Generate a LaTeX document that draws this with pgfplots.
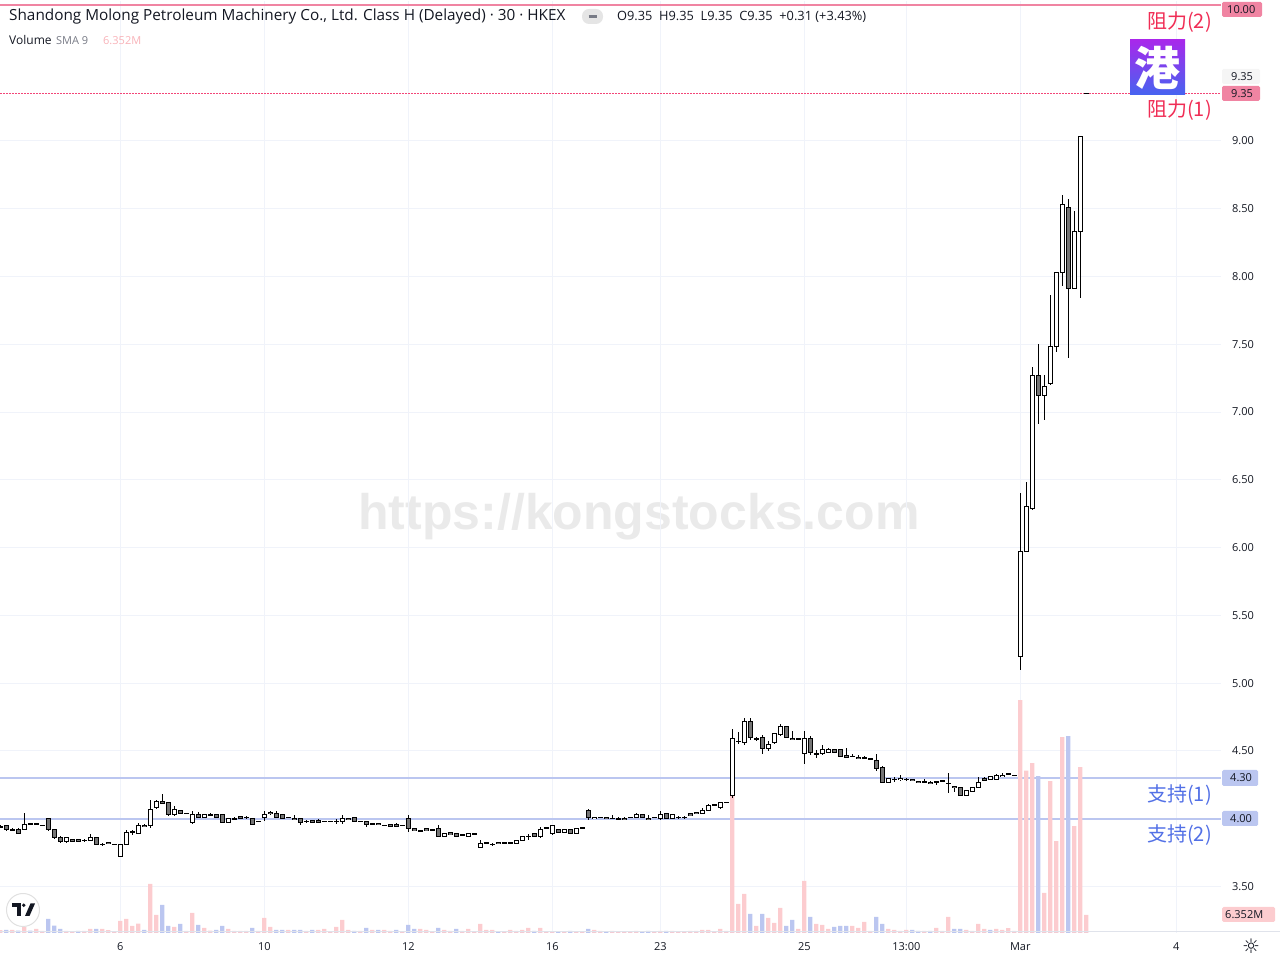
\documentclass[border=0pt]{standalone}
\usepackage{pgfplots}
\pgfplotsset{compat=1.18}
\usepackage{pgfplotstable}
\usepackage{fontspec}
\setmainfont{Open Sans}
\newfontfamily\cjk{Noto Sans CJK SC}
\newfontfamily\dejavu{DejaVu Sans}
\newfontfamily\wmfont{Liberation Sans}
\definecolor{gridc}{RGB}{240,243,250}
\definecolor{volpink}{RGB}{252,204,207}
\definecolor{volblue}{RGB}{187,198,240}
\definecolor{supline}{RGB}{187,198,240}
\definecolor{suptext}{RGB}{82,112,230}
\definecolor{resline}{RGB}{240,132,162}
\definecolor{restext}{RGB}{240,45,85}
\definecolor{dotline}{RGB}{242,70,120}
\definecolor{cgray}{RGB}{117,117,117}
\definecolor{tvtext}{RGB}{19,23,34}
\definecolor{tvgray}{RGB}{120,123,134}
\definecolor{wmc}{RGB}{234,234,234}
\definecolor{smapink}{RGB}{248,178,184}
\definecolor{borderc}{RGB}{224,227,235}
\pgfplotstableread{
x o h l c d v vc
0 3.94 3.95 3.93 3.94 1 0.95 1
1 3.95 3.95 3.91 3.92 0 1.06 0
2 3.92 3.93 3.91 3.92 1 1.06 1
3 3.92 3.93 3.89 3.89 0 0.81 0
4 3.92 4.04 3.92 3.96 1 2.12 1
5 3.965 3.965 3.96 3.96 0 0.81 0
6 3.96 3.97 3.95 3.96 1 1.41 1
7 3.95 3.95 3.95 3.95 1 0.71 1
8 4.00 4.00 3.91 3.92 0 4.94 0
9 3.92 3.92 3.85 3.86 0 2.58 0
10 3.86 3.87 3.82 3.83 0 1.41 0
11 3.83 3.86 3.82 3.86 1 0.71 1
12 3.85 3.85 3.83 3.83 0 0.46 1
13 3.845 3.845 3.835 3.835 0 0.71 0
14 3.84 3.85 3.83 3.84 1 0.71 1
15 3.84 3.89 3.84 3.86 1 1.41 1
16 3.86 3.86 3.81 3.81 0 1.41 0
17 3.81 3.82 3.80 3.81 1 1.41 1
18 3.825 3.825 3.815 3.815 0 0.95 1
19 3.81 3.81 3.81 3.81 1 0.46 1
20 3.72 3.81 3.72 3.81 1 4.24 1
21 3.81 3.92 3.81 3.90 1 4.94 1
22 3.90 3.92 3.88 3.90 1 2.47 1
23 3.89 3.97 3.89 3.95 1 3.28 1
24 3.95 3.96 3.94 3.94 0 1.06 0
25 3.95 4.14 3.93 4.07 1 17.30 1
26 4.08 4.14 4.07 4.13 1 6.35 1
27 4.125 4.18 4.115 4.115 0 9.88 0
28 4.12 4.12 4.02 4.03 0 2.47 0
29 4.03 4.09 4.02 4.07 1 2.12 1
30 4.06 4.06 4.04 4.04 0 3.18 0
31 4.04 4.04 4.04 4.04 1 0.71 1
32 3.97 4.06 3.96 4.03 1 7.06 1
33 4.03 4.05 4.01 4.01 0 2.82 0
34 4.01 4.03 4.01 4.03 1 1.77 1
35 4.03 4.04 4.02 4.03 1 0.81 1
36 4.03 4.03 4.01 4.01 0 1.06 0
37 4.03 4.03 3.97 3.97 0 2.47 0
38 3.97 4.00 3.97 4.00 1 1.41 1
39 4.00 4.01 4.00 4.00 1 0.71 1
40 4.015 4.02 4.005 4.005 0 0.71 1
41 4.01 4.02 4.00 4.01 1 0.71 1
42 4.00 4.00 3.96 3.96 0 1.77 0
43 3.98 3.98 3.98 3.98 1 0.71 1
44 4.01 4.06 3.98 4.03 1 5.30 1
45 4.045 4.06 4.03 4.035 0 2.12 1
46 4.04 4.06 4.01 4.01 0 1.06 0
47 4.03 4.03 4.00 4.00 0 1.06 0
48 4.01 4.01 4.01 4.01 1 1.06 1
49 4.005 4.03 3.99 3.995 0 1.06 0
50 4.00 4.00 3.95 3.97 0 1.06 0
51 3.98 3.99 3.97 3.98 1 0.71 1
52 3.985 3.985 3.975 3.975 0 1.06 0
53 3.985 4.00 3.975 3.975 0 1.06 1
54 3.98 3.98 3.98 3.98 1 1.41 1
55 3.98 3.98 3.98 3.98 1 0.35 1
56 3.98 4.00 3.96 3.98 1 2.12 1
57 3.98 4.03 3.96 4.00 1 4.59 1
58 4.005 4.005 3.995 3.995 0 1.06 1
59 4.01 4.01 3.98 3.98 0 0.71 0
60 3.98 3.98 3.98 3.98 1 0.71 1
61 3.98 3.98 3.94 3.96 0 1.77 0
62 3.96 3.96 3.96 3.96 1 1.06 1
63 3.965 3.965 3.955 3.955 0 1.06 0
64 3.95 3.95 3.95 3.95 1 1.06 1
65 3.955 3.955 3.945 3.945 0 0.71 1
66 3.955 3.97 3.945 3.945 0 1.06 0
67 3.95 3.95 3.95 3.95 1 0.35 1
68 4.00 4.03 3.90 3.93 0 2.82 0
69 3.925 3.935 3.91 3.915 0 1.41 0
70 3.91 3.92 3.90 3.91 1 1.41 1
71 3.925 3.925 3.915 3.915 0 1.06 1
72 3.92 3.92 3.92 3.92 1 0.35 1
73 3.93 3.95 3.87 3.87 0 1.77 0
74 3.87 3.89 3.87 3.89 1 1.06 1
75 3.895 3.895 3.885 3.885 0 0.71 1
76 3.89 3.89 3.87 3.87 0 1.41 0
77 3.88 3.89 3.87 3.88 1 0.71 1
78 3.87 3.89 3.87 3.89 1 1.41 1
79 3.89 3.89 3.89 3.89 1 0.35 1
80 3.79 3.84 3.79 3.82 1 3.18 1
81 3.82 3.83 3.81 3.82 1 1.06 1
82 3.81 3.82 3.80 3.81 1 1.06 1
83 3.825 3.825 3.815 3.815 0 0.35 0
84 3.82 3.83 3.81 3.82 1 0.35 1
85 3.82 3.83 3.81 3.82 1 1.06 1
86 3.82 3.84 3.82 3.84 1 0.71 1
87 3.84 3.87 3.84 3.87 1 1.06 1
88 3.87 3.89 3.84 3.87 1 1.77 1
89 3.89 3.89 3.87 3.87 0 0.71 0
90 3.87 3.94 3.86 3.92 1 1.77 1
91 3.93 3.93 3.93 3.93 1 0.35 1
92 3.89 3.95 3.88 3.95 1 0.35 1
93 3.92 3.92 3.90 3.90 0 0.35 0
94 3.90 3.92 3.90 3.92 1 0.35 1
95 3.92 3.92 3.89 3.89 0 0.71 0
96 3.89 3.93 3.89 3.93 1 0.35 1
97 3.93 3.93 3.93 3.93 1 0.35 1
98 4.06 4.07 3.99 4.01 0 1.41 0
99 4.00 4.01 4.00 4.01 1 1.06 1
100 4.01 4.01 4.01 4.01 1 0.71 1
101 4.01 4.01 4.00 4.00 0 0.35 0
102 4.005 4.03 4.00 4.00 0 0.71 1
103 4.00 4.01 3.99 4.00 1 0.35 1
104 4.005 4.01 3.995 3.995 0 0.35 1
105 4.01 4.01 4.01 4.01 1 0.35 1
106 4.01 4.04 4.01 4.03 1 0.71 1
107 4.03 4.03 4.01 4.01 0 0.35 0
108 4.005 4.03 3.995 3.995 0 0.71 0
109 4.01 4.01 4.01 4.01 1 0.35 1
110 4.00 4.06 3.99 4.03 1 0.71 1
111 4.04 4.04 4.00 4.00 0 0.71 0
112 4.00 4.03 4.00 4.03 1 0.71 1
113 4.01 4.02 4.00 4.01 1 0.35 1
114 4.01 4.02 4.00 4.01 1 0.35 1
115 4.035 4.035 4.025 4.025 0 0.71 1
116 4.045 4.045 4.035 4.035 0 0.71 1
117 4.04 4.08 4.04 4.06 1 1.06 1
118 4.06 4.11 4.06 4.10 1 1.06 1
119 4.10 4.10 4.10 4.10 1 0.35 1
120 4.08 4.12 4.07 4.12 1 1.41 1
121 4.12 4.12 4.12 4.12 1 0.71 1
122 4.17 4.66 4.15 4.59 1 48.36 1
123 4.57 4.64 4.55 4.57 1 10.24 1
124 4.56 4.74 4.54 4.72 1 13.77 1
125 4.72 4.74 4.58 4.60 0 6.71 0
126 4.59 4.60 4.57 4.59 1 2.47 1
127 4.60 4.62 4.48 4.52 0 6.71 0
128 4.52 4.57 4.50 4.55 1 5.30 1
129 4.56 4.63 4.55 4.63 1 3.53 1
130 4.62 4.70 4.61 4.68 1 8.83 1
131 4.68 4.68 4.60 4.60 0 2.47 0
132 4.595 4.65 4.585 4.585 0 4.59 0
133 4.59 4.59 4.59 4.59 1 1.41 1
134 4.48 4.65 4.40 4.59 1 18.36 1
135 4.59 4.61 4.47 4.49 0 5.65 0
136 4.48 4.51 4.45 4.48 1 3.18 1
137 4.48 4.54 4.47 4.51 1 2.82 1
138 4.49 4.52 4.49 4.51 1 1.41 1
139 4.51 4.51 4.49 4.49 0 2.12 0
140 4.51 4.51 4.46 4.46 0 2.47 0
141 4.465 4.52 4.455 4.455 0 2.47 0
142 4.46 4.48 4.46 4.46 1 2.47 1
143 4.455 4.47 4.44 4.445 0 1.77 1
144 4.45 4.46 4.44 4.45 1 3.88 1
145 4.44 4.44 4.44 4.44 1 0.71 1
146 4.43 4.48 4.35 4.37 0 5.65 0
147 4.38 4.39 4.27 4.27 0 3.18 0
148 4.27 4.30 4.27 4.30 1 1.41 1
149 4.29 4.31 4.27 4.29 1 1.06 1
150 4.29 4.32 4.28 4.30 1 0.71 1
151 4.29 4.30 4.28 4.29 1 1.06 1
152 4.29 4.29 4.28 4.28 0 1.06 0
153 4.275 4.275 4.265 4.265 0 0.71 0
154 4.27 4.29 4.27 4.27 1 0.71 1
155 4.27 4.28 4.26 4.26 0 0.71 0
156 4.27 4.28 4.25 4.27 1 1.77 1
157 4.28 4.28 4.28 4.28 1 0.71 1
158 4.26 4.34 4.19 4.26 1 5.65 1
159 4.24 4.24 4.20 4.23 0 1.41 0
160 4.23 4.23 4.17 4.17 0 1.41 0
161 4.17 4.21 4.17 4.21 1 1.06 1
162 4.20 4.23 4.20 4.23 1 0.71 1
163 4.23 4.31 4.23 4.27 1 3.18 1
164 4.295 4.31 4.28 4.285 0 1.41 1
165 4.29 4.31 4.29 4.31 1 1.06 0
166 4.29 4.33 4.29 4.32 1 1.41 1
167 4.31 4.34 4.31 4.32 1 1.06 1
168 4.33 4.34 4.32 4.33 1 1.66 1
169 4.32 4.32 4.32 4.32 1 0.71 1
170 5.20 6.40 5.10 5.97 1 82.14 1
171 5.97 6.48 5.97 6.30 1 57.29 1
172 6.29 7.33 6.28 7.27 1 59.90 1
173 7.27 7.50 6.91 7.12 0 55.32 0
174 7.12 7.27 6.94 7.19 1 14.12 1
175 7.21 7.86 7.20 7.48 1 53.55 1
176 7.48 8.03 7.44 8.03 1 32.37 1
177 8.03 8.60 7.93 8.53 1 69.08 1
178 8.51 8.57 7.40 7.91 0 69.44 0
179 7.91 8.48 7.91 8.33 1 37.67 1
180 8.33 9.03 7.84 9.03 1 58.49 1
181 9.35 9.35 9.35 9.35 1 6.352 1
}\candles
\begin{document}
\begin{tikzpicture}[x=1pt,y=1pt]
\path[use as bounding box] (0,0) rectangle (1280,960);
\node[text=wmc, font=\wmfont\bfseries\fontsize{50}{50}\selectfont] at (639,443) {https://kongstocks.com};
\begin{axis}[
  at={(0,20)}, anchor=south west, scale only axis,
  width=1221pt, height=932pt,
  xmin=-0.05, xmax=203.45, ymin=3.1576, ymax=10.0328,
  axis line style={draw=none},
  major tick length=0pt,
  xtick={20,44,68,92,110,134,151,170,196},
  xticklabels={6,10,12,16,23,25,13:00,Mar,4},
  ytick={3.5,4,4.5,5,5.5,6,6.5,7,7.5,8,8.5,9,10},
  yticklabels={3.50,,4.50,5.00,5.50,6.00,6.50,7.00,7.50,8.00,8.50,9.00,},
  yticklabel pos=right,
  grid=major, major grid style={draw=gridc, line width=1pt},
  tick label style={font=\fontsize{11}{13}\selectfont, text=tvtext},
  yticklabel style={anchor=west, inner sep=0pt, xshift=11pt},
  xticklabel style={anchor=base, inner sep=0pt, yshift=-18pt},
]
% support / resistance lines
\addplot[supline, line width=2pt] coordinates {(-1,4.30) (204,4.30)};
\addplot[supline, line width=2pt] coordinates {(-1,4.00) (204,4.00)};
\addplot[resline, line width=2pt] coordinates {(-1,10.00) (204,10.00)};
\addplot[dotline, line width=1.2pt, dash pattern=on 1.5pt off 1.5pt] coordinates {(-1,9.35) (204,9.35)};
% volume
\addplot[ybar, bar width=4.3pt, bar shift=0pt, fill=volpink, draw=none]
  table[x=x, y expr={3.1576+\thisrow{vc}*\thisrow{v}*0.020904}]{\candles};
\addplot[ybar, bar width=4.3pt, bar shift=0pt, fill=volblue, draw=none]
  table[x=x, y expr={3.1576+(1-\thisrow{vc})*\thisrow{v}*0.020904}]{\candles};
% wicks
\addplot[draw=none, mark=none, error bars/.cd, y dir=both, y explicit, error mark=none,
  error bar style={draw=black, solid, line width=1.1pt}]
  table[x=x, y expr={(\thisrow{h}+\thisrow{l})/2}, y error expr={(\thisrow{h}-\thisrow{l})/2}]{\candles};
% bodies outline
\addplot[draw=none, mark=none, error bars/.cd, y dir=both, y explicit, error mark=none,
  error bar style={draw=black, solid, line width=4.6pt}]
  table[x=x, y expr={(\thisrow{o}+\thisrow{c})/2}, y error expr={max(abs(\thisrow{c}-\thisrow{o})/2+0.0037,0.0055)}]{\candles};
% bodies fill up
\addplot[draw=none, mark=none, error bars/.cd, y dir=both, y explicit, error mark=none,
  error bar style={draw=white, solid, line width=3.0pt}]
  table[x=x, y expr={(\thisrow{o}+\thisrow{c})/2}, y error expr={\thisrow{d}*max(abs(\thisrow{c}-\thisrow{o})/2-0.0037,0)}]{\candles};
% bodies fill down
\addplot[draw=none, mark=none, error bars/.cd, y dir=both, y explicit, error mark=none,
  error bar style={draw=cgray, solid, line width=3.0pt}]
  table[x=x, y expr={(\thisrow{o}+\thisrow{c})/2}, y error expr={(1-\thisrow{d})*max(abs(\thisrow{c}-\thisrow{o})/2-0.0037,0)}]{\candles};
\end{axis}
% bottom border
\draw[borderc, line width=1pt] (0,28) -- (1280,28);
% header
\node[anchor=base west, inner sep=0pt, text=tvtext, font=\fontsize{15.3}{17}\selectfont] at (9,939)
  {Shandong Molong Petroleum Machinery Co., Ltd. Class H (Delayed) · 30 · HKEX};
\fill[rounded corners=7pt, fill=black!10] (582,936) rectangle (603,951);
\draw[tvgray, line width=2.5pt] (588.5,943.5) -- (596.5,943.5);
\node[anchor=base west, inner sep=0pt, text=tvtext, font=\fontsize{12.8}{14}\selectfont] at (617,939)
  {O9.35\ \ H9.35\ \ L9.35\ \ C9.35\ \ +0.31 (+3.43\%)};
\node[anchor=base west, inner sep=0pt, text=tvtext, font=\fontsize{12}{14}\selectfont] at (9,915) {Volume};
\node[anchor=base west, inner sep=0pt, text=tvgray, font=\fontsize{11}{13}\selectfont] at (56,915) {SMA 9};
\node[anchor=base west, inner sep=0pt, text=smapink, font=\fontsize{11}{13}\selectfont] at (103,915) {6.352M};
% labels
\node[anchor=east, inner sep=0pt, text=restext, font=\cjk\fontsize{20}{22}\selectfont] at (1212,938) {阻力(2)};
\node[anchor=east, inner sep=0pt, text=restext, font=\cjk\fontsize{20}{22}\selectfont] at (1212,850) {阻力(1)};
\node[anchor=east, inner sep=0pt, text=suptext, font=\cjk\fontsize{20}{22}\selectfont] at (1212,165) {支持(1)};
\node[anchor=east, inner sep=0pt, text=suptext, font=\cjk\fontsize{20}{22}\selectfont] at (1212,125) {支持(2)};
% logo
\shade[top color={rgb,255:red,168;green,40;blue,235}, bottom color={rgb,255:red,70;green,100;blue,240}] (1130,865) rectangle (1185,920);
\node[text=white, font=\cjk\bfseries\fontsize{46}{46}\selectfont, inner sep=0pt] at (1157.5,892.5) {港};
% price tags
\fill[resline, rounded corners=1.5pt] (1222,943) rectangle (1262,958);
\node[anchor=west, inner sep=0pt, text=tvtext, font=\fontsize{11}{13}\selectfont] at (1227,950.5) {10.00};
\fill[black!4, rounded corners=1.5pt] (1222,876) rectangle (1260,891);
\node[anchor=west, inner sep=0pt, text=tvtext, font=\fontsize{11}{13}\selectfont] at (1231,883.5) {9.35};
\fill[resline, rounded corners=1.5pt] (1222,859) rectangle (1260,874);
\node[anchor=west, inner sep=0pt, text=tvtext, font=\fontsize{11}{13}\selectfont] at (1231,866.5) {9.35};
\fill[supline, rounded corners=1.5pt] (1222,174) rectangle (1258,190);
\node[anchor=west, inner sep=0pt, text=tvtext, font=\fontsize{11}{13}\selectfont] at (1230,182) {4.30};
\fill[supline, rounded corners=1.5pt] (1222,134) rectangle (1258,149);
\node[anchor=west, inner sep=0pt, text=tvtext, font=\fontsize{11}{13}\selectfont] at (1230,141.5) {4.00};
\fill[volpink, rounded corners=1.5pt] (1222,38) rectangle (1275,53);
\node[anchor=west, inner sep=0pt, text=tvtext, font=\fontsize{11}{13}\selectfont] at (1225,45.5) {6.352M};
% gear
\node[text=tvtext, font=\dejavu\fontsize{20}{20}\selectfont] at (1251,14) {☼};
% TV logo
\fill[white] (23,50) circle (16.5);
\draw[black!12, line width=1pt] (23,50) circle (16.5);
\fill[tvtext] (12,53) rectangle (20.5,56.5);
\fill[tvtext] (16.5,44) rectangle (20.5,56.5);
\fill[tvtext] (23.8,54.7) circle (1.9);
\fill[tvtext] (25,44) -- (29.5,44) -- (35,56.5) -- (30.5,56.5) -- cycle;
\end{tikzpicture}
\end{document}
